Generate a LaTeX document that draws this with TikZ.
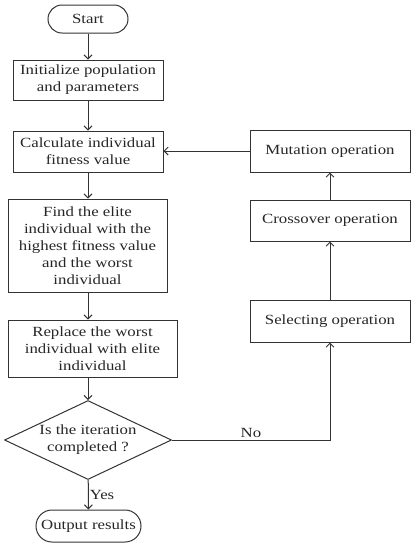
\documentclass[tikz,border=0pt]{standalone}
\usepackage{fontspec}
\setmainfont{Liberation Serif}[FakeStretch=1.2]
\usetikzlibrary{shapes.geometric,arrows.meta}
\begin{document}
\begin{tikzpicture}[x=1pt,y=-1pt,
  every node/.style={font=\fontsize{14}{17}\selectfont, text=black!85},
  box/.style={draw=black!80, line width=1pt, align=center, inner sep=0pt},
  pill/.style={box, rounded corners=14pt},
  decision/.style={draw=black!80, line width=1pt, align=center, diamond, inner sep=0pt, shape aspect=2.1},
  arr/.style={-{Straight Barb[length=4pt,width=8pt]}, line width=1pt, draw=black!80},
  lbl/.style={inner sep=1pt}]
\useasboundingbox (0,0) rectangle (418,550);
\node[pill, minimum width=80pt, minimum height=28pt] (start) at (88,19) {Start};
\node[box, minimum width=150pt, minimum height=40pt] (init) at (88,80) {Initialize population\\and parameters};
\node[box, minimum width=150pt, minimum height=41pt] (calc) at (88,151.5) {Calculate individual\\fitness value};
\node[box, minimum width=159pt, minimum height=93pt] (find) at (87.5,245.5) {Find the elite\\individual with the\\highest fitness value\\and the worst\\individual};
\node[box, minimum width=169pt, minimum height=57pt] (repl) at (92.5,348.5) {Replace the worst\\individual with elite\\individual};
\node[decision, minimum width=167pt, minimum height=79pt] (dec) at (88,440) {Is the iteration\\completed ?};
\node[box, rounded corners=16pt, minimum width=105pt, minimum height=32pt] (out) at (88.5,526) {Output results};
\node[box, minimum width=160pt, minimum height=42pt] (mut) at (330,151) {Mutation operation};
\node[box, minimum width=160pt, minimum height=41pt] (cross) at (330,220.5) {Crossover operation};
\node[box, minimum width=160pt, minimum height=42pt] (sel) at (330,321) {Selecting operation};
\coordinate (corner) at (sel.south |- dec.east);
\draw[arr] (start) -- (init);
\draw[arr] (init) -- (calc);
\draw[arr] (calc) -- (find.north -| calc.south);
\draw[arr] (find.south -| calc.south) -- (repl.north -| calc.south);
\draw[arr] (repl.south -| calc.south) -- (dec);
\draw[arr] (dec) -- node[lbl, anchor=west] {Yes} (out);
\draw[arr] (dec.east) -- node[lbl, above=1pt, pos=0.5] {No} (corner) -- (sel.south);
\draw[arr] (sel) -- (cross);
\draw[arr] (cross) -- (mut);
\draw[arr] (mut.west) -- (calc.east |- mut.west);
\end{tikzpicture}
\end{document}
